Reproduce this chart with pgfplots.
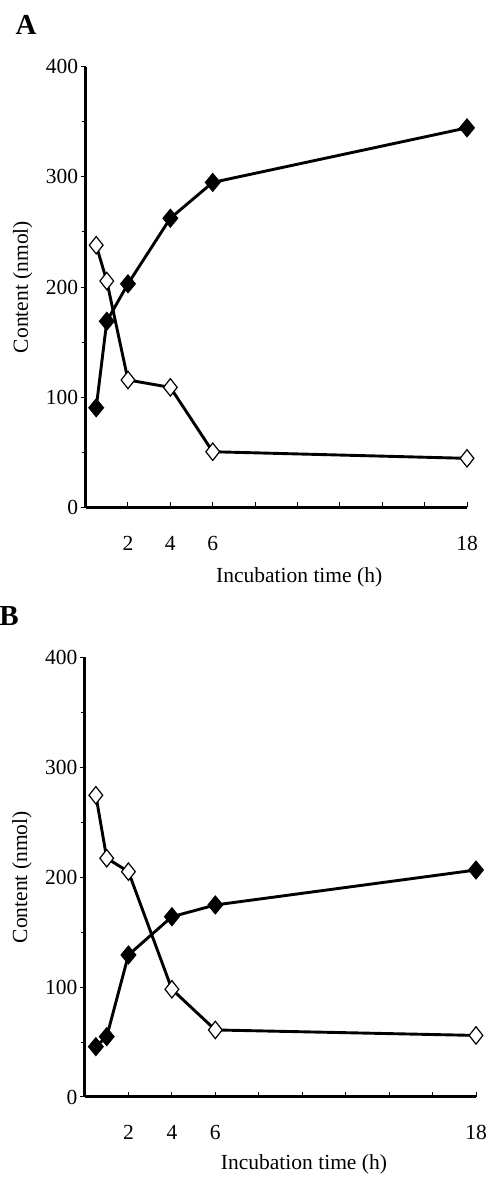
\documentclass[border=0pt]{standalone}
\usepackage{fontspec}
\setmainfont{Liberation Serif}
\usepackage{pgfplots}
\pgfplotsset{compat=1.18}
\pgfplotstableread{
x filled open
0.5 90.5 238
1 169 205.5
2 203 115.7
4 262.5 109
6 295 50.6
18 344.5 44.6
}\dataA
\pgfplotstableread{
x filled open
0.5 45.8 274.5
1 54.9 217.2
2 129.2 205
4 164 98
6 174.7 61
18 206.5 56
}\dataB
\pgfplotsset{
  panel/.style={
    scale only axis,
    anchor=south west,
    axis lines=left,
    axis line style={-, line width=3pt},
    xmin=0, xmax=18, ymin=0, ymax=400,
    clip=false,
    xtick={2,4,...,18},
    xticklabels={2,4,6,,,,,,18},
    ytick={0,100,...,400},
    minor ytick={50,150,250,350},
    xtick align=inside,
    ytick align=outside,
    major tick length=5pt,
    minor tick length=4pt,
    tick style={line width=1pt, black},
    /pgf/number format/assume math mode=true,
    tick label style={font=\fontsize{21.5}{24}\selectfont},
    xticklabel style={yshift=-25pt},
    yticklabel style={xshift=1pt},
    ylabel={Content (nmol)},
    xlabel={Incubation time (h)},
  },
  fil/.style={black, line width=2.9pt, mark=diamond*, mark size=9pt,
    mark options={solid, fill=black, line width=1pt, xscale=1.1}},
  opn/.style={black, line width=2.9pt, mark=diamond*, mark size=8.7pt,
    mark options={solid, fill=white, line width=1.2pt, xscale=1.05}},
}
\begin{document}
\begin{tikzpicture}
\useasboundingbox (0pt,0pt) rectangle (489pt,1178pt);
\node[font=\bfseries\fontsize{29}{32}\selectfont] at (26pt,1153pt) {A};
\node[font=\bfseries\fontsize{29}{32}\selectfont] at (9pt,562pt) {B};
\begin{axis}[panel, at={(85.6pt,670.5pt)}, width=381.4pt, height=440.8pt,
  every axis y label/.style={at={(axis description cs:-0.165,0.5)}, rotate=90, anchor=center, font=\fontsize{21.5}{24}\selectfont},
  every axis x label/.style={at={(axis description cs:0.56,-0.159)}, anchor=center, font=\fontsize{21.5}{24}\selectfont}]
\addplot[fil] table[x=x, y=filled] {\dataA};
\addplot[opn] table[x=x, y=open] {\dataA};
\end{axis}
\begin{axis}[panel, at={(85pt,81pt)}, width=391pt, height=439.7pt,
  every axis y label/.style={at={(axis description cs:-0.161,0.5)}, rotate=90, anchor=center, font=\fontsize{21.5}{24}\selectfont},
  every axis x label/.style={at={(axis description cs:0.56,-0.152)}, anchor=center, font=\fontsize{21.5}{24}\selectfont}]
\addplot[fil] table[x=x, y=filled] {\dataB};
\addplot[opn] table[x=x, y=open] {\dataB};
\end{axis}
\end{tikzpicture}
\end{document}
